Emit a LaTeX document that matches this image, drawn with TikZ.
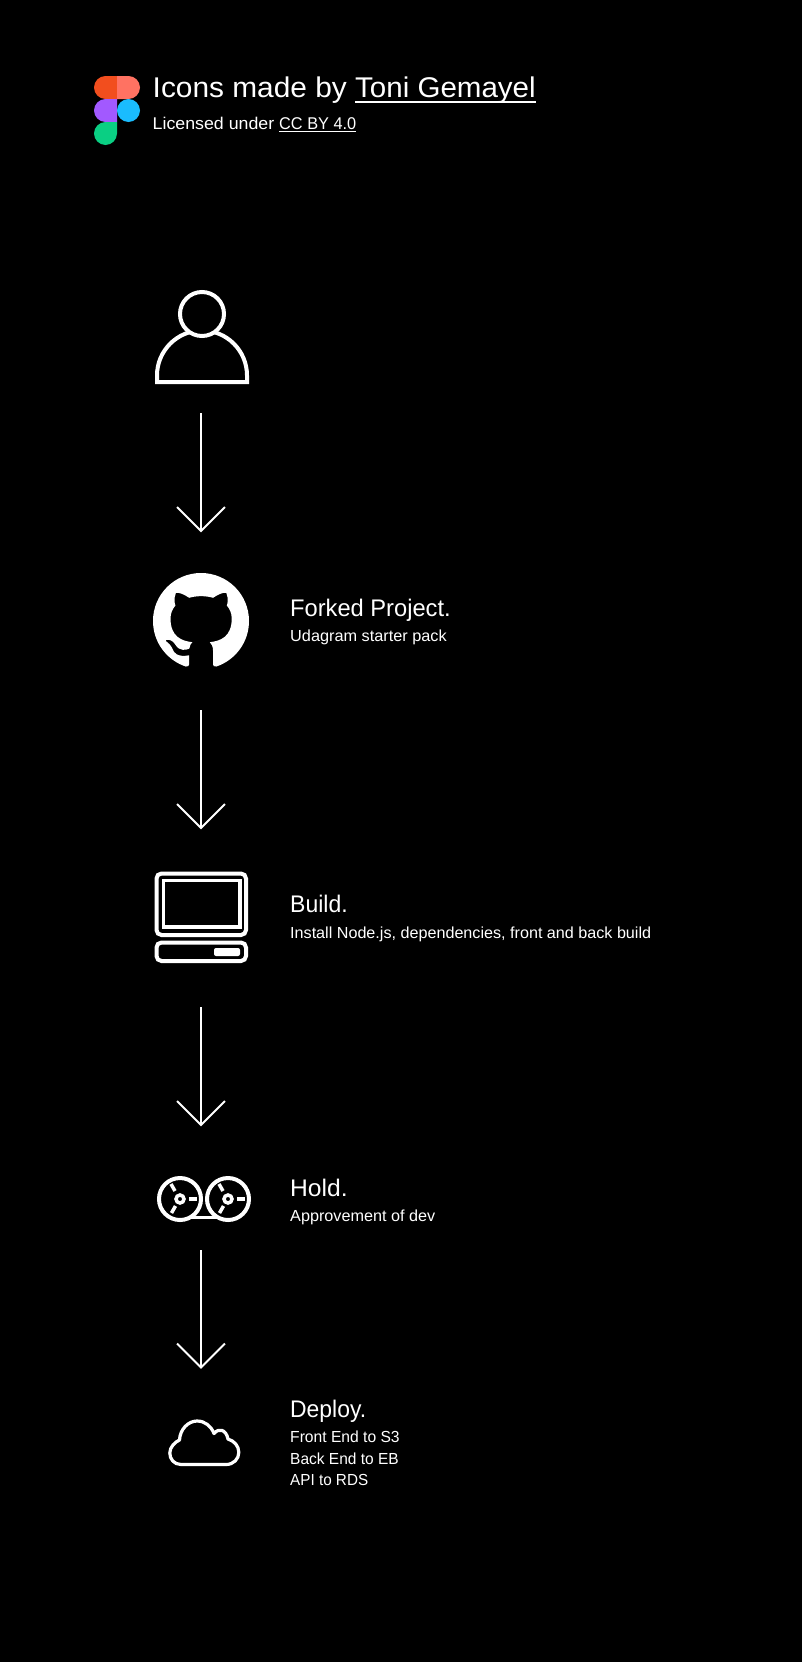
\documentclass[tikz,border=0pt]{standalone}
\usepackage{fontspec}
\setmainfont{Liberation Sans}
\usetikzlibrary{svg.path}
\newcommand\myunder[3]{\setbox0\hbox{#3}\rlap{\rule[-#1]{\wd0}{#2}}\box0 }
\newcommand\fitw[2]{\resizebox{#1}{\height}{#2}}
\definecolor{fo}{HTML}{F24E1E}
\definecolor{fr}{HTML}{FF7262}
\definecolor{fp}{HTML}{A259FF}
\definecolor{fb}{HTML}{1ABCFE}
\definecolor{fg}{HTML}{0ACF83}
\tikzset{
  x=1pt,y=-1pt,
  txt/.style={text=white,inner sep=0pt,anchor=base west},
  big/.style={txt,font=\fontsize{24}{24}\selectfont},
  small/.style={txt,font=\fontsize{16}{16}\selectfont},
  flow/.style={draw=white,line width=2pt},
  icon/.style={draw=white,line width=4pt},
}
\begin{document}
\begin{tikzpicture}
\useasboundingbox[fill=black] (0,0) rectangle (802,1662);
% Figma logo
\fill[fo] (117,76) -- (117,99) -- (105.5,99) arc[start angle=90,end angle=270,radius=11.5] -- cycle;
\fill[fr] (117,76) -- (128.5,76) arc[start angle=-90,end angle=90,radius=11.5] -- (117,99) -- cycle;
\fill[fp] (117,99) -- (117,122) -- (105.5,122) arc[start angle=90,end angle=270,radius=11.5] -- cycle;
\fill[fb] (128.5,110.5) circle[radius=11.5];
\fill[fg] (117,122) -- (117,133.5) arc[start angle=0,end angle=180,radius=11.5] arc[start angle=180,end angle=270,radius=11.5] -- cycle;
% header
\node[txt,font=\fontsize{28.5}{28.5}\selectfont] (title) at (152.5,97) {\fitw{202.5pt}{Icons made by\ }\fitw{180.5pt}{\myunder{5.6pt}{1.5pt}{Toni Gemayel}}};
\node[small,font=\fontsize{17}{17}\selectfont] (lic) at (152.5,129.3) {\fitw{126.5pt}{Licensed under\ }\fitw{77pt}{\myunder{2.8pt}{1.2pt}{CC BY 4.0}}};
% person
\draw[icon,miter limit=10] (157,382) -- (247,382) -- (247,375.5) arc[start angle=0,end angle=-180,radius=45] -- cycle;
\draw[icon,fill=black] (202,314) circle[radius=22];
% arrows
\coordinate (a1s) at (201,413); \coordinate (a1e) at (201,531);
\coordinate (a2s) at (201,710); \coordinate (a2e) at (201,828);
\coordinate (a3s) at (201,1007); \coordinate (a3e) at (201,1125);
\coordinate (a4s) at (201,1250); \coordinate (a4e) at (201,1367.5);
\foreach \n in {a1,a2,a3,a4}{
  \draw[flow] (\n s) -- (\n e);
  \draw[flow] ([shift={(-24,-24)}]\n e) -- (\n e) -- ([shift={(24,-24)}]\n e);
}
% github
\fill[white,shift={(153,573)},xscale=6,yscale=-6] svg {M 8 0 C 3.58 0 0 3.58 0 8 c 0 3.54 2.29 6.53 5.47 7.59 c 0.4 0.07 0.55 -0.17 0.55 -0.38 c 0 -0.19 -0.01 -0.82 -0.01 -1.49 c -2.01 0.37 -2.53 -0.49 -2.69 -0.94 c -0.09 -0.23 -0.48 -0.94 -0.82 -1.13 c -0.28 -0.15 -0.68 -0.52 -0.01 -0.53 c 0.63 -0.01 1.08 0.58 1.23 0.82 c 0.72 1.21 1.87 0.87 2.33 0.66 c 0.07 -0.52 0.28 -0.87 0.51 -1.07 c -1.78 -0.2 -3.64 -0.89 -3.64 -3.95 c 0 -0.87 0.31 -1.59 0.82 -2.15 c -0.08 -0.2 -0.36 -1.02 0.08 -2.12 c 0 0 0.67 -0.21 2.2 0.82 c 0.64 -0.18 1.32 -0.27 2 -0.27 c 0.68 0 1.36 0.09 2 0.27 c 1.53 -1.04 2.2 -0.82 2.2 -0.82 c 0.44 1.1 0.16 1.92 0.08 2.12 c 0.51 0.56 0.82 1.27 0.82 2.15 c 0 3.07 -1.87 3.75 -3.65 3.95 c 0.29 0.25 0.54 0.73 0.54 1.48 c 0 1.07 -0.01 1.93 -0.01 2.2 c 0 0.21 0.15 0.46 0.55 0.38 C 13.71 14.53 16 11.54 16 8 c 0 -4.42 -3.58 -8 -8 -8 z};
% monitor
\draw[white,line width=4pt,rounded corners=5pt] (156.5,873.5) rectangle (246,935);
\draw[white,line width=3.2pt] (163.5,880.5) rectangle (240,927);
\draw[white,line width=4pt,rounded corners=5pt] (156.5,942.5) rectangle (246,961);
\fill[white,rounded corners=2pt] (214,948) rectangle (240,956);
% reels
\foreach \dx in {0,48}{
  \begin{scope}[shift={(\dx,0)}]
  \draw[white,line width=4pt] (180,1199) circle[radius=21];
  \draw[white,line width=3.5pt] (180,1199) circle[radius=4];
  \draw[white,line width=3.5pt] (189,1199) -- (197,1199);
  \draw[white,line width=3.5pt] (171,1184) -- (175,1191);
  \draw[white,line width=3.5pt] (171.5,1213) -- (175.5,1206);
  \end{scope}
}
\draw[white,line width=3.5pt] (190,1217.5) -- (218,1217.5);
% cloud
\draw[white,line width=3.2pt,line join=round] (181,1464.5)
  .. controls (174,1464.5) and (169.8,1459) .. (169.8,1453)
  .. controls (169.8,1447) and (175,1442) .. (179.5,1440)
  .. controls (180,1429.5) and (188,1421) .. (197,1421)
  .. controls (205,1421) and (211,1426) .. (214,1433.5)
  .. controls (219,1427.5) and (226,1429.5) .. (228,1439)
  .. controls (234.5,1441) and (238.8,1446) .. (238.8,1452.5)
  .. controls (238.8,1459) and (233.5,1464.5) .. (226,1464.5)
  -- cycle;
% labels
\node[big] (t1) at (290,616) {\fitw{160.5pt}{Forked Project.}};
\node[small] (s1) at (290,641.5) {\fitw{156.5pt}{Udagram starter pack}};
\node[big] (t2) at (290,912.7) {\fitw{57.5pt}{Build.}};
\node[small] (s2) at (290,938) {\fitw{361pt}{Install Node.js, dependencies, front and back build}};
\node[big] (t3) at (290,1196) {\fitw{57.5pt}{Hold.}};
\node[small] (s3) at (290,1221) {\fitw{145pt}{Approvement of dev}};
\node[big] (t4) at (290,1417) {\fitw{76pt}{Deploy.}};
\node[small] (s4a) at (290,1442.3) {\fitw{109.5pt}{Front End to S3}};
\node[small] (s4b) at (290,1464) {\fitw{108.5pt}{Back End to EB}};
\node[small] (s4c) at (290,1485.3) {\fitw{78pt}{API to RDS}};
\end{tikzpicture}
\end{document}
